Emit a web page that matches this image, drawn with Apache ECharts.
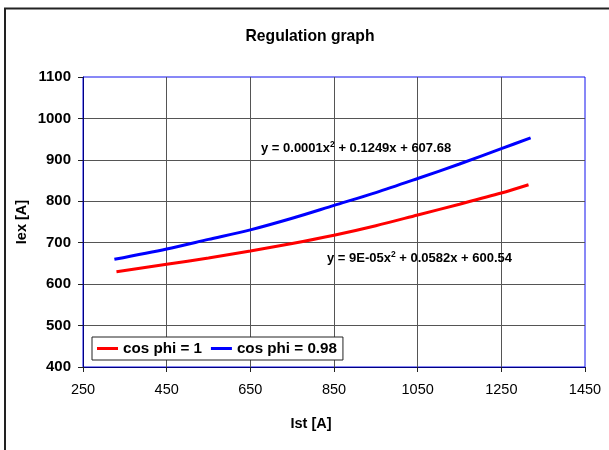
<!DOCTYPE html>
<html>
<head>
<meta charset="utf-8">
<script src="https://cdn.jsdelivr.net/npm/echarts@6/dist/echarts.min.js"></script>
<style>html,body{margin:0;padding:0;background:#fff}#c{width:609px;height:450px}</style>
</head>
<body>
<div id="c"></div>
<script>
const titleText = 'Regulation graph';
const xName = 'Ist [A]';
const yName = 'Iex [A]';
const seriesNames = ['cos phi = 1', 'cos phi = 0.98'];
const xRed = [330, 450, 550, 650, 750, 850, 950, 1050, 1150, 1250, 1315];
const redVals = [630, 648, 663, 680, 698, 718, 741, 767, 793, 820, 840];
const xBlue = [325, 450, 550, 650, 750, 850, 950, 1050, 1150, 1250, 1320];
const blueVals = [660, 685, 708, 731, 759, 790, 821, 855, 890, 927, 953];
const xTicks = {min: 250, max: 1450, interval: 200};
const yTicks = {min: 400, max: 1100, interval: 100};
const eqBlue = ['y = 0.0001x', '2', ' + 0.1249x + 607.68'];
const eqRed = ['y = 9E-05x', '2', ' + 0.0582x + 600.54'];

const FONT = '"Liberation Sans", Arial, sans-serif';
const chart = echarts.init(document.getElementById('c'));
const pairs = (xs, ys) => xs.map((x, i) => [x, ys[i]]);
const eqRich = {
  n: {fontSize: 13, fontWeight: 'bold', fontFamily: FONT, lineHeight: 16, verticalAlign: 'middle', color: '#000'},
  s: {fontSize: 8.5, fontWeight: 'bold', fontFamily: FONT, lineHeight: 8, verticalAlign: 'top', color: '#000'}
};
const eqText = (p) => '{n|' + p[0] + '}{s|' + p[1] + '}{n|' + p[2] + '}';

chart.setOption({
  animation: false,
  backgroundColor: '#fff',
  grid: {left: 83, right: 24, top: 77, bottom: 83, show: true, borderColor: '#1010ee', borderWidth: 1, backgroundColor: 'transparent'},
  xAxis: {
    type: 'value', min: xTicks.min, max: xTicks.max, interval: xTicks.interval,
    axisLine: {show: true, lineStyle: {color: '#000080', width: 1}},
    axisTick: {show: true, length: 5, lineStyle: {color: '#222'}},
    axisLabel: {color: '#000', fontFamily: FONT, fontSize: 14.5, margin: 15, formatter: v => String(v)},
    splitLine: {show: true, showMinLine: false, showMaxLine: false, lineStyle: {color: '#555', width: 1}}
  },
  yAxis: {
    type: 'value', min: yTicks.min, max: yTicks.max, interval: yTicks.interval,
    axisLine: {show: true, lineStyle: {color: '#000080', width: 1}},
    axisTick: {show: true, length: 5, lineStyle: {color: '#222'}},
    axisLabel: {color: '#000', fontFamily: FONT, fontSize: 15, fontWeight: 'bold', margin: 12, formatter: v => String(v)},
    splitLine: {show: true, showMinLine: false, showMaxLine: false, lineStyle: {color: '#555', width: 1}}
  },
  legend: {
    left: 92, top: 337, orient: 'horizontal',
    padding: [4, 6, 4, 5], itemGap: 9, itemWidth: 21, itemHeight: 3, icon: 'rect',
    backgroundColor: '#fff', borderColor: '#222', borderWidth: 1,
    textStyle: {color: '#000', fontFamily: FONT, fontSize: 15.2, fontWeight: 'bold'},
    data: seriesNames
  },
  series: [
    {name: seriesNames[0], type: 'line', data: pairs(xRed, redVals), smooth: 0.3, showSymbol: false,
     lineStyle: {color: '#ff0000', width: 3}, itemStyle: {color: '#ff0000'}, z: 3},
    {name: seriesNames[1], type: 'line', data: pairs(xBlue, blueVals), smooth: 0.3, showSymbol: false,
     lineStyle: {color: '#0000ff', width: 3}, itemStyle: {color: '#0000ff'}, z: 3}
  ],
  graphic: [
    {type: 'rect', shape: {x: 5, y: 8.5, width: 640, height: 480}, style: {fill: 'none', stroke: '#222', lineWidth: 2}, silent: true, z: -1},
    {type: 'text', x: 310, y: 29, style: {text: titleText, fill: '#000', font: 'bold 15.7px ' + FONT, align: 'center', verticalAlign: 'top'}},
    {type: 'text', x: 311, y: 416, style: {text: xName, fill: '#000', font: 'bold 14.5px ' + FONT, align: 'center', verticalAlign: 'top'}},
    {type: 'text', x: 22, y: 222, rotation: Math.PI / 2, style: {text: yName, fill: '#000', font: 'bold 14.5px ' + FONT, align: 'center', verticalAlign: 'middle'}},
    {type: 'text', x: 261, y: 148, z: 10, style: {text: eqText(eqBlue), verticalAlign: 'middle', rich: eqRich}},
    {type: 'text', x: 327, y: 258, z: 10, style: {text: eqText(eqRed), verticalAlign: 'middle', rich: eqRich}}
  ]
});
</script>
</body>
</html>
